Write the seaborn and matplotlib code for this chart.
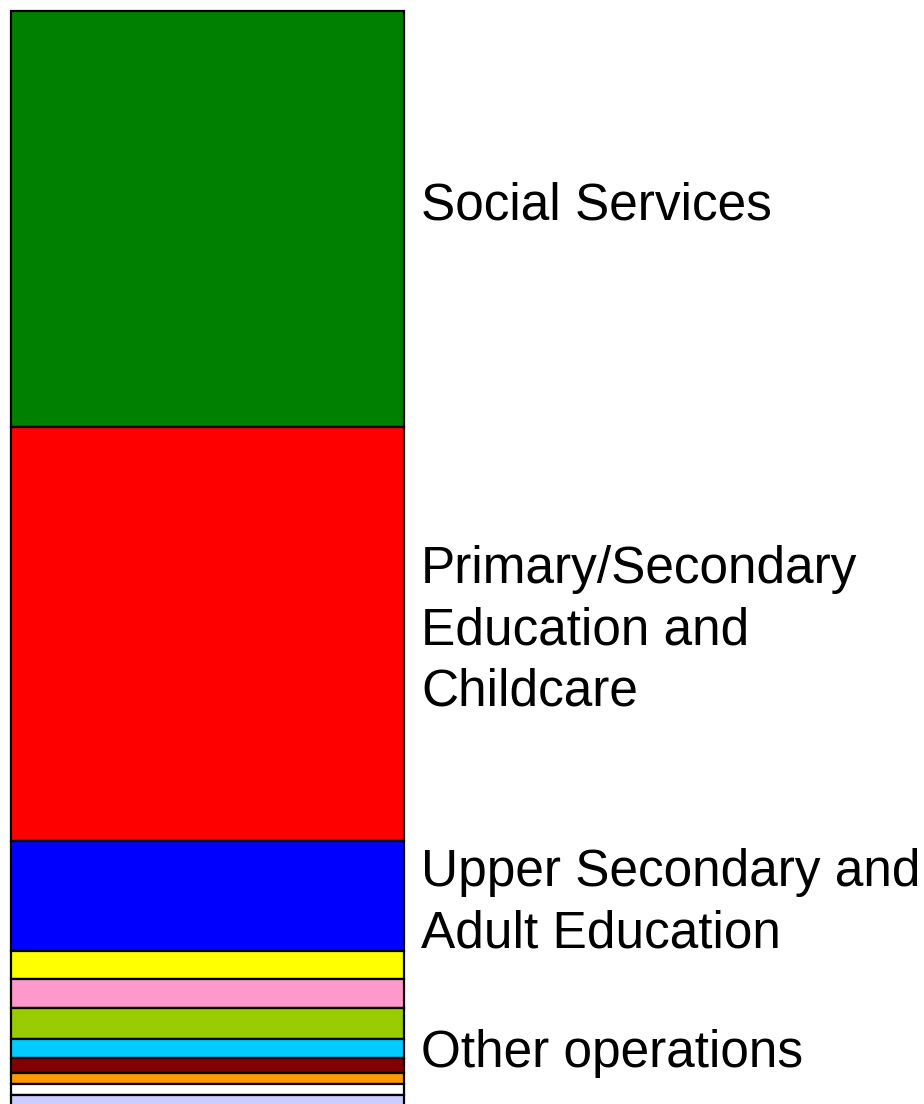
import matplotlib
matplotlib.use("Agg")
import matplotlib.pyplot as plt
import matplotlib.transforms as mtransforms
import seaborn as sns
import pandas as pd

# Segment data (top to bottom)
segments = ["Social Services", "Primary/Secondary Education and Childcare",
            "Upper Secondary and Adult Education", "Other A", "Other B", "Other C",
            "Other D", "Other E", "Other F", "Other G", "Other H"]
values = [416, 414, 110, 28, 29, 31, 19, 15, 11, 11, 20]
colors = ["#008000", "#ff0000", "#0000ff", "#ffff00", "#ff99cc", "#99cc00",
          "#00ccff", "#800000", "#ff9900", "#ffffff", "#ccccff"]

label_texts = ["Social Services",
               "Primary/Secondary\nEducation and\nChildcare",
               "Upper Secondary and\nAdult Education",
               "Other operations"]
# baseline of the last line of each label, in bar units from the top
label_baselines = [209, 694, 936, 1056]

sns.set_style("white")
plt.rcParams["font.family"] = ["Liberation Sans", "DejaVu Sans"]

W, H = 924, 1104
fig = plt.figure(figsize=(W / 100, H / 100), dpi=100)
total = sum(values)
top_px = 11
ax = fig.add_axes([11 / W, 1 - (top_px + total) / H, 393 / W, total / H])

df = pd.DataFrame({"bar": ["x"] * len(values), "value": values, "segment": segments})
bottom = 0
for v, c, s in zip(values, colors, segments):
    sns.barplot(data=df[df["segment"] == s], x="bar", y="value", color=c,
                width=1.0, bottom=bottom, edgecolor="black", linewidth=1.6,
                clip_on=False, saturation=1, errorbar=None, ax=ax)
    bottom += v

ax.set_xlim(-0.5, 0.5)
ax.set_ylim(total, 0)
ax.axis("off")

trans = mtransforms.blended_transform_factory(fig.transFigure, ax.transData)
for txt, yb in zip(label_texts, label_baselines):
    ax.text(421 / W, yb, txt, transform=trans, fontsize=37, va="baseline",
            ha="left", color="black", linespacing=1.31)

fig.savefig("out.png", dpi=100)
